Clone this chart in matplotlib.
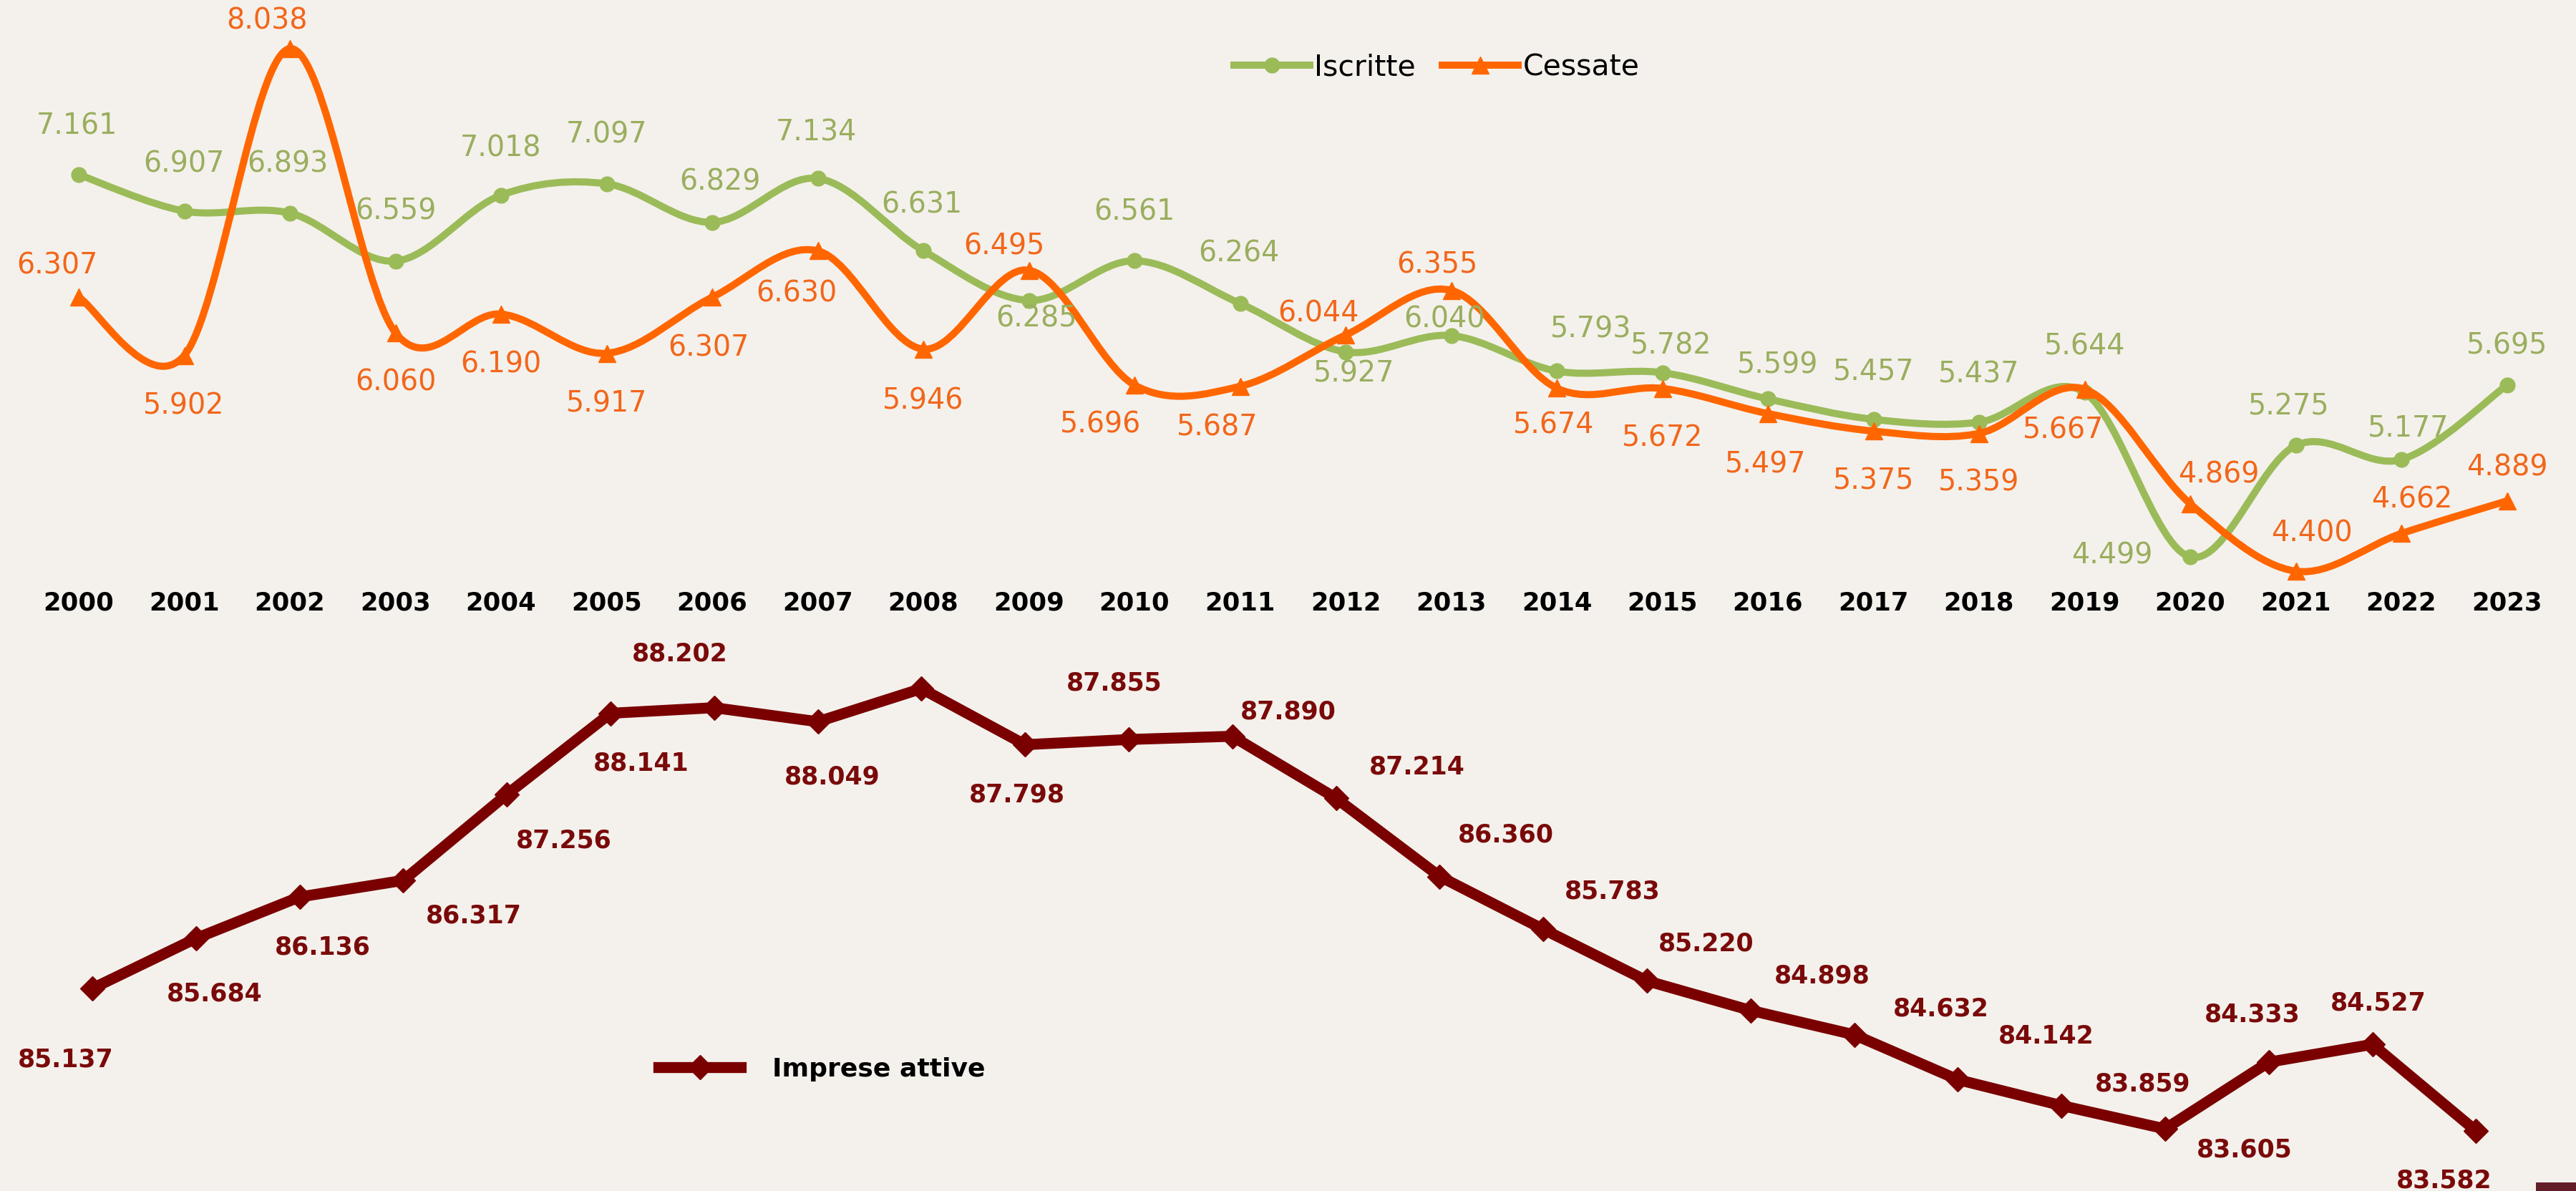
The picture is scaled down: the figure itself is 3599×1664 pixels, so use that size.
import numpy as np
import matplotlib
matplotlib.use("Agg")
import matplotlib.pyplot as plt
from matplotlib.path import Path
from matplotlib.patches import PathPatch, Rectangle
from matplotlib.lines import Line2D

# ---------------- data ----------------
years = list(range(2000, 2024))
iscritte = [7161, 6907, 6893, 6559, 7018, 7097, 6829, 7134, 6631, 6285, 6561, 6264,
            5927, 6040, 5793, 5782, 5599, 5457, 5437, 5644, 4499, 5275, 5177, 5695]
cessate = [6307, 5902, 8038, 6060, 6190, 5917, 6307, 6630, 5946, 6495, 5696, 5687,
           6044, 6355, 5674, 5672, 5497, 5375, 5359, 5667, 4869, 4400, 4662, 4889]
imprese = [85137, 85684, 86136, 86317, 87256, 88141, 88202, 88049, 88410, 87798, 87855, 87890,
           87214, 86360, 85783, 85220, 84898, 84632, 84142, 83859, 83605, 84333, 84527, 83582]
series_names = ["Iscritte", "Cessate", "Imprese attive"]

# label offsets in pixels (dx right, dy down) -- layout only
off_isc = [(-3, -67), (-1, -65), (-3, -68), (0, -69), (0, -65), (0, -68), (11, -56), (-2, -64),
           (-2, -64), (10, 26), (0, -68), (-2, -69), (12, 31), (-10, -22), (48, -58), (12, -37),
           (14, -47), (0, -66), (0, -66), (0, -64), (-109, -2), (-10, -54), (10, -44), (0, -55)]
off_ces = [(-30, -44), (-1, 71), (-32, -38), (0, 70), (0, 71), (0, 71), (-5, 71), (-30, 60),
           (0, 73), (-35, -33), (-47, 56), (-32, 58), (-38, -30), (-20, -35), (-4, 52), (0, 70),
           (-3, 72), (0, 70), (0, 69), (-30, 58), (40, -40), (22, -52), (15, -47), (0, -46)]
off_imp = [(-37, 99), (26, 77), (32, 70), (98, 49), (80, 65), (43, 70), (-48, -75), (20, 77),
           None, (-11, 70), (-20, -79), (78, -34), (113, -44), (92, -58), (97, -53), (83, -52),
           (100, -48), (121, -36), (123, -61), (113, -30), (111, 29), (-23, -66), (8, -58), (-45, 69)]

# ---------------- style ----------------
BG = "#F4F1EC"
GREEN = "#9BBB59"
GREEN_T = "#9AAE5E"
ORANGE = "#FF6600"
ORANGE_T = "#F2661A"
DRED = "#7A0000"
DRED_T = "#7A0A0A"

W, H = 3599, 1664
fig = plt.figure(figsize=(W / 100, H / 100), dpi=100, facecolor=BG)


def fig_rect(left_px, top_px, right_px, bottom_px):
    return [left_px / W, 1 - bottom_px / H, (right_px - left_px) / W, (bottom_px - top_px) / H]


def fmt(v):
    return f"{v:,}".replace(",", ".")


def smooth_path(x, y):
    x = np.asarray(x, float)
    y = np.asarray(y, float)
    n = len(x)
    verts = [(x[0], y[0])]
    codes = [Path.MOVETO]
    for i in range(n - 1):
        j0 = i - 1 if i > 0 else i
        j3 = i + 2 if i + 2 < n else i + 1
        c1 = (x[i] + (x[i + 1] - x[j0]) / 6, y[i] + (y[i + 1] - y[j0]) / 6)
        c2 = (x[i + 1] - (x[j3] - x[i]) / 6, y[i + 1] - (y[j3] - y[i]) / 6)
        verts += [c1, c2, (x[i + 1], y[i + 1])]
        codes += [Path.CURVE4] * 3
    return Path(verts, codes)


# ---------------- top panel ----------------
ax1 = fig.add_axes(fig_rect(36.25, 15.4, 3576.25, 838.1))
ax1.set_facecolor("none")
ax1.set_xlim(1999.5, 2023.5)
ax1.set_ylim(4200, 8300)

LW = 7.2
MS_G, MS_O = 15, 17
ax1.add_patch(PathPatch(smooth_path(years, iscritte), fill=False, edgecolor=GREEN,
                        lw=LW, capstyle="round", joinstyle="round", zorder=2))
ax1.plot(years, iscritte, linestyle="none", marker="o", ms=MS_G, color=GREEN, zorder=3)
ax1.add_patch(PathPatch(smooth_path(years, cessate), fill=False, edgecolor=ORANGE,
                        lw=LW, capstyle="round", joinstyle="round", zorder=4))
ax1.plot(years, cessate, linestyle="none", marker="^", ms=MS_O, color=ORANGE, zorder=5)

for x, v, o in zip(years, iscritte, off_isc):
    ax1.annotate(fmt(v), (x, v), xytext=(o[0], -o[1]), textcoords="offset pixels",
                 ha="center", va="center", fontsize=28.5, color=GREEN_T, zorder=6)
for x, v, o in zip(years, cessate, off_ces):
    ax1.annotate(fmt(v), (x, v), xytext=(o[0], -o[1]), textcoords="offset pixels",
                 ha="center", va="center", fontsize=28.5, color=ORANGE_T, zorder=6)

for x in years:
    ax1.text(x, -0.0055, str(x), transform=ax1.get_xaxis_transform(), ha="center",
             va="center", fontsize=25.5, fontweight="bold", color="black")

h1 = [Line2D([], [], color=GREEN, lw=LW, marker="o", ms=MS_G),
      Line2D([], [], color=ORANGE, lw=LW, marker="^", ms=MS_O)]
fig.legend(h1, series_names[:2], loc="center", bbox_to_anchor=(2007 / W, 1 - 94 / H),
           bbox_transform=fig.transFigure, ncol=2, frameon=False, fontsize=29.5,
           handlelength=2.6, handletextpad=0.15, columnspacing=0.9)

# ---------------- bottom panel ----------------
ax2 = fig.add_axes(fig_rect(56.6, 925, 3531.8, 1629))
ax2.set_facecolor("none")
ax2.set_xlim(1999.5, 2023.5)
ax2.set_ylim(83200, 88700)
ax2.plot(years, imprese, color=DRED, lw=11, marker="D", ms=17, zorder=3)
for x, v, o in zip(years, imprese, off_imp):
    if o is None:
        continue
    ax2.annotate(fmt(v), (x, v), xytext=(o[0], -o[1]), textcoords="offset pixels",
                 ha="center", va="center", fontsize=25, fontweight="bold", color=DRED_T,
                 zorder=6)

h2 = [Line2D([], [], color=DRED, lw=11, marker="D", ms=17)]
fig.legend(h2, series_names[2:], loc="center", bbox_to_anchor=(1148 / W, 1 - 1494 / H),
           bbox_transform=fig.transFigure, frameon=False,
           prop={"weight": "bold", "size": 26}, handlelength=3.2, handletextpad=1.2)

for ax in (ax1, ax2):
    for s in ax.spines.values():
        s.set_visible(False)
    ax.set_xticks([])
    ax.set_yticks([])

fig.add_artist(Rectangle((3543 / W, 0), 56 / W, 12 / H, transform=fig.transFigure,
                         facecolor="#631E28", edgecolor="none"))

fig.savefig("out.png", dpi=100, facecolor=BG)
